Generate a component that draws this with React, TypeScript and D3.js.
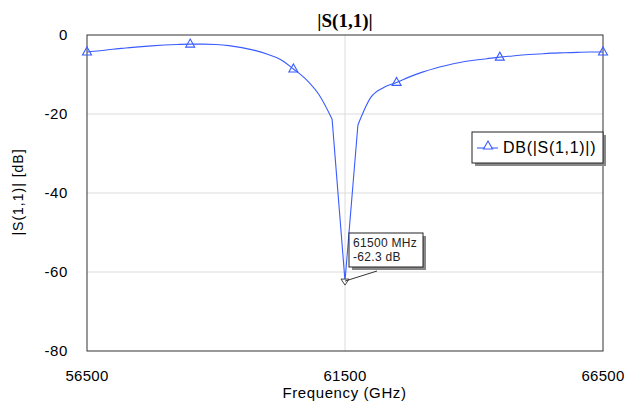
import React from 'react';
import * as d3 from 'd3';

// sweep in MHz, 250 MHz step
const freqs = d3.range(56500, 66501, 250);
const s11 = [
  -4.3, -4.0, -3.6, -3.3, -3.0, -2.75, -2.55, -2.4, -2.3, -2.3,
  -2.4, -2.7, -3.2, -3.9, -4.9, -6.2, -8.6, -11.3, -15.2, -21.3,
  -62.3,
  -22.8, -15.8, -13.3, -12.0, -10.6, -9.4, -8.4, -7.6, -6.9, -6.4,
  -6.0, -5.6, -5.3, -5.0, -4.8, -4.6, -4.5, -4.4, -4.3, -4.3,
];
const markerFreqs = [56500, 58500, 60500, 62500, 64500, 66500];
const xTicks = [56500, 61500, 66500];
const yTicks = [0, -20, -40, -60, -80];
const markerFreq = 61500;
const markerLabel = ['61500 MHz', '-62.3 dB'];
const title = '|S(1,1)|';
const legendLabel = 'DB(|S(1,1)|)';

const W = 642;
const H = 412;
const margin = { top: 35, right: 39, bottom: 61, left: 87 };
const blue = '#3a5cff';
const sans = '"Liberation Sans", Arial, sans-serif';

const tri = (x: number, y: number) =>
  `M${x},${y - 5}L${x + 4.5},${y + 3}L${x - 4.5},${y + 3}Z`;

export default function App() {
  const x = d3.scaleLinear().domain([56500, 66500]).range([margin.left, W - margin.right]);
  const y = d3.scaleLinear().domain([-80, 0]).range([H - margin.bottom, margin.top]);
  const pts = freqs.map((f, i) => [f, s11[i]] as [number, number]);
  const smooth = d3.line<[number, number]>().x(d => x(d[0])).y(d => y(d[1])).curve(d3.curveMonotoneX);
  const straight = d3.line<[number, number]>().x(d => x(d[0])).y(d => y(d[1]));

  const mi = freqs.indexOf(markerFreq);
  const mx = x(markerFreq);
  const my = y(s11[mi]);
  // smooth skirts, straight segments into the notch
  const segs = [
    smooth(pts.slice(0, mi)),
    straight(pts.slice(mi - 1, mi + 2)),
    smooth(pts.slice(mi + 1)),
  ];
  const boxX = 349, boxY = 233, boxW = 74, boxH = 34;
  const legX = 472, legY = 132, legW = 131, legH = 31;

  return (
    <svg width={W} height={H} style={{ position: 'absolute', left: 0, top: 0, background: '#fff' }}>
      <rect width={W} height={H} fill="#fff" />
      {/* grid */}
      {yTicks.filter(t => t !== 0 && t !== -80).map(t => (
        <line key={t} x1={x.range()[0]} x2={x.range()[1]} y1={y(t)} y2={y(t)} stroke="#dcdcdc" />
      ))}
      <line x1={mx} x2={mx} y1={y(0)} y2={y(-80)} stroke="#dcdcdc" />
      <rect x={x.range()[0]} y={y(0)} width={x.range()[1] - x.range()[0]} height={y(-80) - y(0)}
        fill="none" stroke="#333" />

      {/* title */}
      <text x={(x.range()[0] + x.range()[1]) / 2} y={27} textAnchor="middle"
        fontFamily='"Liberation Serif", "Times New Roman", serif' fontWeight="bold" fontSize={19}>{title}</text>

      {/* y ticks */}
      {yTicks.map(t => (
        <text key={t} x={68} y={y(t) + 5} textAnchor="end" fontFamily={sans} fontSize={15}
          letterSpacing={0.6}>{t}</text>
      ))}
      <text transform={`translate(23,192) rotate(-90)`} textAnchor="middle" fontFamily={sans}
        fontSize={14} letterSpacing={1}>|S(1,1)| [dB]</text>

      {/* x ticks */}
      {xTicks.map(t => (
        <text key={t} x={x(t)} y={381} textAnchor="middle" fontFamily={sans} fontSize={15}
          letterSpacing={0.3}>{t}</text>
      ))}
      <text x={344.5} y={398} textAnchor="middle" fontFamily={sans} fontSize={15}
        letterSpacing={0.6}>Frequency (GHz)</text>

      {/* curve */}
      {segs.map((d, i) => (
        <path key={i} d={d ?? ''} fill="none" stroke={blue} strokeWidth={1.1} />
      ))}
      {markerFreqs.map(f => (
        <path key={f} d={tri(x(f), y(s11[freqs.indexOf(f)]))} fill="none" stroke={blue} strokeWidth={1.1} />
      ))}

      {/* marker */}
      <path d={`M${mx - 4},${my - 2}L${mx + 4},${my - 2}L${mx},${my + 4}Z`} fill="#fff" stroke="#444" />
      <line x1={mx} y1={my} x2={377} y2={271} stroke="#333" />
      <rect x={boxX + 3} y={boxY + 3} width={boxW} height={boxH} fill="#888" />
      <rect x={boxX} y={boxY} width={boxW} height={boxH} fill="#fff" stroke="#222" />
      {markerLabel.map((s, i) => (
        <text key={s} x={boxX + 4} y={boxY + 14 + i * 14} fontFamily={sans} fontSize={12}
          letterSpacing={0.3} fill="#222">{s}</text>
      ))}

      {/* legend */}
      <rect x={legX + 3} y={legY + 3} width={legW} height={legH} fill="#888" />
      <rect x={legX} y={legY} width={legW} height={legH} fill="#fff" stroke="#222" />
      <line x1={477} x2={498} y1={148} y2={148} stroke={blue} strokeWidth={1.1} />
      <path d={tri(488, 146)} fill="#fff" stroke={blue} strokeWidth={1.1} />
      <text x={503} y={153} fontFamily={sans} fontSize={16} letterSpacing={0.7}>{legendLabel}</text>
    </svg>
  );
}
